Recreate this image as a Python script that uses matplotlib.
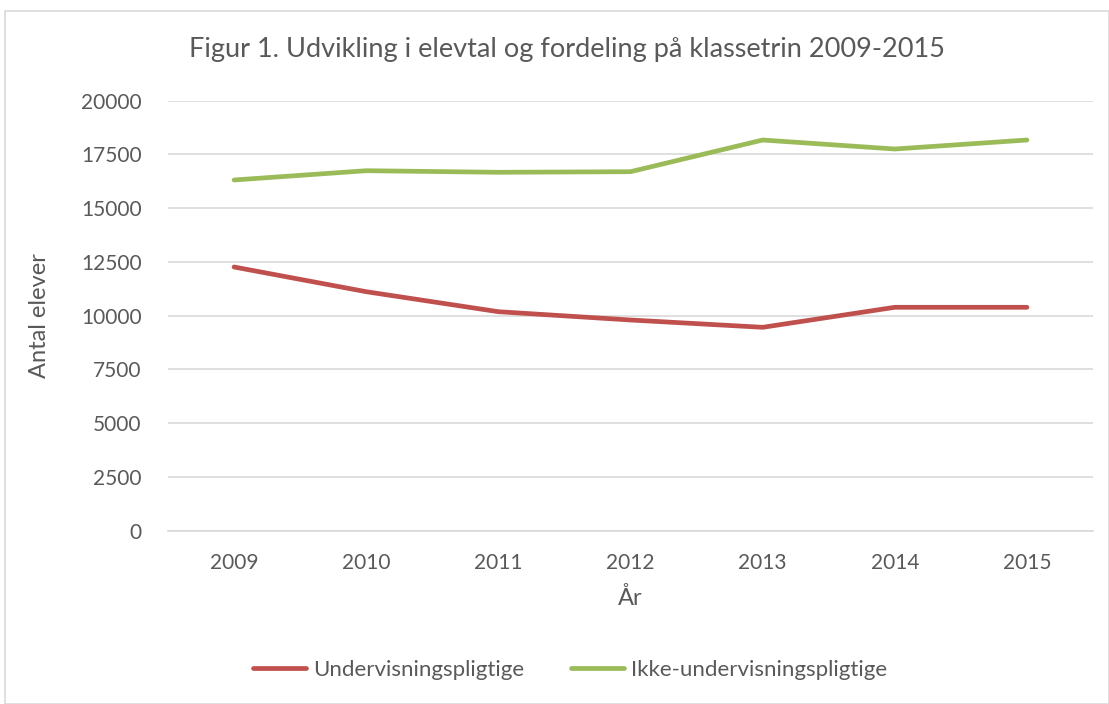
import matplotlib.pyplot as plt
from matplotlib.patches import Rectangle

years = ['2009', '2010', '2011', '2012', '2013', '2014', '2015']
undervisningspligtige = [12265, 11116, 10186, 9800, 9460, 10391, 10391]
ikke_undervisningspligtige = [16312, 16744, 16670, 16698, 18172, 17753, 18172]
y_ticks = [0, 2500, 5000, 7500, 10000, 12500, 15000, 17500, 20000]

text_color = '#595959'
plt.rcParams['font.family'] = ['Lato', 'DejaVu Sans']

fig = plt.figure(figsize=(11.09, 7.04), dpi=100)
fig.patches.append(Rectangle((5 / 1109, 0), 1 - 5 / 1109, 1 - 11 / 704,
                             transform=fig.transFigure, fill=False,
                             edgecolor='#D9D9D9', linewidth=1.2))

ax = fig.add_axes([168 / 1109, 1 - 530.7 / 704, (1093 - 168) / 1109, 430 / 704])
x = list(range(len(years)))
ax.plot(x, undervisningspligtige, color='#C0504D', linewidth=3.4,
        solid_capstyle='round', solid_joinstyle='round', label='Undervisningspligtige')
ax.plot(x, ikke_undervisningspligtige, color='#9BBB59', linewidth=3.4,
        solid_capstyle='round', solid_joinstyle='round', label='Ikke-undervisningspligtige')

ax.set_xlim(-0.5, len(years) - 0.5)
ax.set_ylim(0, 20000)
ax.set_yticks(y_ticks)
ax.set_yticklabels([str(v) for v in y_ticks])
ax.set_xticks(x)
ax.set_xticklabels(years)
ax.grid(axis='y', color='#D9D9D9', linewidth=1.2)
ax.set_axisbelow(True)
for side in ['top', 'right', 'left']:
    ax.spines[side].set_visible(False)
ax.spines['bottom'].set_color('#D9D9D9')
ax.spines['bottom'].set_linewidth(1.2)
ax.tick_params(axis='both', length=0, labelsize=15, labelcolor=text_color)
ax.tick_params(axis='y', pad=19)
ax.tick_params(axis='x', pad=16)

ax.set_xlabel('År', fontsize=17, color=text_color, labelpad=10)
ax.set_ylabel('Antal elever', fontsize=17, color=text_color, labelpad=22)
fig.text(567 / 1109, 1 - 49 / 704, 'Figur 1. Udvikling i elevtal og fordeling på klassetrin 2009-2015',
         ha='center', va='center', fontsize=19.5, color=text_color)

fig.legend(loc='center', bbox_to_anchor=(570 / 1109, 1 - 670 / 704), ncol=2,
           frameon=False, fontsize=16, labelcolor=text_color,
           handlelength=2.4, handletextpad=0.3, columnspacing=2.1)

fig.savefig('out.png', dpi=100)
